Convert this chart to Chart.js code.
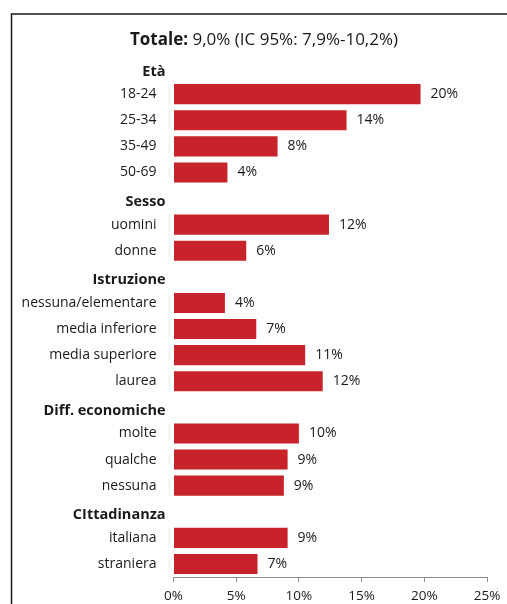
<!DOCTYPE html>
<html>
<head>
<meta charset="utf-8">
<script src="https://cdn.jsdelivr.net/npm/chart.js@4"></script>
<style>
  html, body { margin: 0; padding: 0; background: #fff; }
  #wrap { width: 507px; height: 604px; position: relative; }
</style>
</head>
<body>
<div id="wrap"><canvas id="c" width="507" height="604"></canvas></div>
<script>
// Rows of the chart, top to bottom; group headings carry no value
const categories = [
  'Età', '18-24', '25-34', '35-49', '50-69',
  'Sesso', 'uomini', 'donne',
  'Istruzione', 'nessuna/elementare', 'media inferiore', 'media superiore', 'laurea',
  'Diff. economiche', 'molte', 'qualche', 'nessuna',
  'CIttadinanza', 'italiana', 'straniera'
];
const headings = ['Età', 'Sesso', 'Istruzione', 'Diff. economiche', 'CIttadinanza'];
// Prevalence (%) per row; null for heading rows
const values = [
  null, 19.7, 13.8, 8.3, 4.3,
  null, 12.4, 5.8,
  null, 4.1, 6.6, 10.5, 11.9,
  null, 10.0, 9.1, 8.8,
  null, 9.1, 6.7
];
const xTicks = [0, 5, 10, 15, 20, 25];
const titleBold = 'Totale:';
const titleRest = ' 9,0% (IC 95%: 7,9%-10,2%)';

const FONT = '"Open Sans", "DejaVu Sans", sans-serif';
const TEXT = '#1a1a1a';

const framePlugin = {
  id: 'frame',
  beforeDraw(chart) {
    const c = chart.ctx;
    c.save();
    c.strokeStyle = '#1a1a1a';
    c.lineWidth = 1.5;
    c.beginPath();
    c.moveTo(11.5, 604);
    c.lineTo(11.5, 14);
    c.lineTo(507, 14);
    c.stroke();
    c.restore();
  }
};

const titlePlugin = {
  id: 'mixedTitle',
  afterDraw(chart) {
    const c = chart.ctx;
    c.save();
    c.textBaseline = 'middle';
    c.fillStyle = TEXT;
    c.font = 'bold 17px ' + FONT;
    const w1 = c.measureText(titleBold).width;
    c.font = '17px ' + FONT;
    const w2 = c.measureText(titleRest).width;
    const x = 264 - (w1 + w2) / 2;
    const y = 40;
    c.textAlign = 'left';
    c.font = 'bold 17px ' + FONT;
    c.fillText(titleBold, x, y);
    c.font = '17px ' + FONT;
    c.fillText(titleRest, x + w1, y);
    c.restore();
  }
};

const rowLabelPlugin = {
  id: 'rowLabels',
  afterDraw(chart) {
    const c = chart.ctx;
    const yScale = chart.scales.y;
    const left = chart.chartArea.left;
    c.save();
    c.textBaseline = 'middle';
    c.textAlign = 'right';
    c.fillStyle = TEXT;
    categories.forEach((lab, i) => {
      const y = yScale.getPixelForValue(i);
      if (headings.includes(lab)) {
        c.font = 'bold 14.5px ' + FONT;
        c.fillText(lab, left - 8, y + 3.5);
      } else {
        c.font = '14px ' + FONT;
        c.fillText(lab, left - 17, y);
      }
    });
    c.restore();
  }
};

const valueLabelPlugin = {
  id: 'valueLabels',
  afterDatasetsDraw(chart) {
    const c = chart.ctx;
    const meta = chart.getDatasetMeta(0);
    c.save();
    c.textBaseline = 'middle';
    c.textAlign = 'left';
    c.fillStyle = TEXT;
    c.font = '14px ' + FONT;
    meta.data.forEach((bar, i) => {
      const v = values[i];
      if (v === null) return;
      c.fillText(Math.round(v) + '%', bar.x + 10, bar.y);
    });
    c.restore();
  }
};

new Chart(document.getElementById('c'), {
  type: 'bar',
  data: {
    labels: categories,
    datasets: [{
      data: values,
      backgroundColor: '#C8232B',
      borderWidth: 0,
      barPercentage: 0.77,
      categoryPercentage: 1.0
    }]
  },
  options: {
    indexAxis: 'y',
    responsive: false,
    animation: false,
    layout: { padding: { top: 55, right: 20, bottom: 0, left: 0 } },
    plugins: {
      legend: { display: false },
      tooltip: { enabled: false },
      title: { display: false }
    },
    scales: {
      x: {
        min: 0,
        max: 25,
        afterBuildTicks(scale) { scale.ticks = xTicks.map(v => ({ value: v })); },
        afterFit(scale) { scale.height = 27; },
        grid: { drawOnChartArea: false, drawTicks: true, tickLength: 5, color: '#8c8c8c' },
        border: { display: true, color: '#8c8c8c', width: 1 },
        ticks: {
          padding: 6,
          color: TEXT,
          font: { family: FONT, size: 13.5 },
          callback: v => v + '%'
        }
      },
      y: {
        afterFit(scale) { scale.width = 173.5; },
        grid: { display: false },
        border: { display: false },
        ticks: { display: false }
      }
    }
  },
  plugins: [framePlugin, titlePlugin, rowLabelPlugin, valueLabelPlugin]
});
</script>
</body>
</html>
